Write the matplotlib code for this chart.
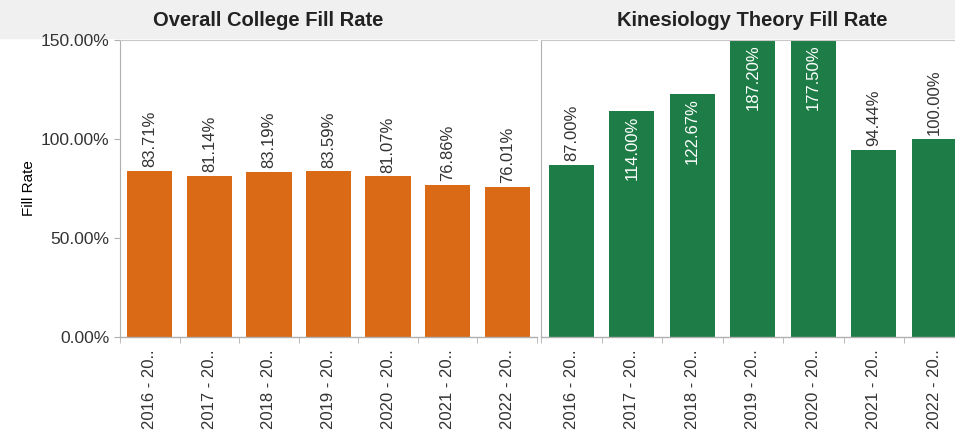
import numpy as np
import matplotlib.pyplot as plt

plt.rcParams.update({
    "font.family": ["Liberation Sans", "DejaVu Sans"],
    "font.size": 12,
    "text.color": "#333333",
    "xtick.color": "#333333",
    "ytick.color": "#333333",
})

years = ["2016 - 20..", "2017 - 20..", "2018 - 20..", "2019 - 20..",
         "2020 - 20..", "2021 - 20..", "2022 - 20.."]
college = [83.71, 81.14, 83.19, 83.59, 81.07, 76.86, 76.01]
kines = [87.00, 114.00, 122.67, 187.20, 177.50, 94.44, 100.00]
yticks = [0, 50, 100, 150]

ORANGE = "#DA6A16"
GREEN = "#1E7D47"

W, H = 955, 444
fig = plt.figure(figsize=(W / 100, H / 100), dpi=100)
fig.patch.set_facecolor("white")

# header band
fig.add_artist(plt.Rectangle((0, (H - 38) / H), 1, 38 / H, transform=fig.transFigure,
                             color="#f0f0f0", zorder=0))

y0 = (H - 337) / H
hh = 297 / H
ax1 = fig.add_axes([120 / W, y0, 417 / W, hh])
ax2 = fig.add_axes([541 / W, y0, 423.5 / W, hh])

x = np.arange(len(years))


def style(ax):
    ax.set_xlim(-0.5, len(years) - 0.5)
    ax.set_ylim(0, 150)
    for s in ["right", "bottom"]:
        ax.spines[s].set_visible(False)
    ax.spines["top"].set_color("#c8c8c8")
    ax.spines["left"].set_color("#b0b0b0")
    ax.set_xticks(x)
    ax.set_xticklabels(years, rotation=90, fontsize=12)
    ax.tick_params(axis="x", length=0, pad=9)
    ax.set_xticks(np.arange(-0.5, len(years)), minor=True)
    ax.tick_params(axis="x", which="minor", length=4, color="#b0b0b0")
    ax.axhline(0, color="#b0b0b0", lw=1, clip_on=False)


style(ax1)
style(ax2)

ax1.bar(x, college, width=0.76, color=ORANGE)
for xi, v in zip(x, college):
    ax1.text(xi, v + 2, f"{v:.2f}%", rotation=90, ha="center", va="bottom", fontsize=12)

ax1.set_yticks(yticks)
ax1.set_yticklabels([f"{t:.2f}%" for t in yticks], fontsize=12.5)
ax1.tick_params(axis="y", length=4, color="#b0b0b0")
ax1.set_ylabel("Fill Rate", fontsize=11)
ax1.yaxis.set_label_coords(-84 / 417, 0.5)

# titles centred over each pane
fig.text(268 / W, (H - 20) / H, "Overall College Fill Rate", ha="center", va="center",
         fontsize=14.5, fontweight="bold", color="#222222")
fig.text(752 / W, (H - 20) / H, "Kinesiology Theory Fill Rate", ha="center", va="center",
         fontsize=14.5, fontweight="bold", color="#222222")

ax2.bar(x, kines, width=0.75, color=GREEN)
for xi, v in zip(x, kines):
    if v > 105:
        top = min(v, 150)
        ax2.text(xi, top - 2, f"{v:.2f}%", rotation=90, ha="center", va="top",
                 fontsize=12, color="white")
    else:
        ax2.text(xi, v + 2, f"{v:.2f}%", rotation=90, ha="center", va="bottom", fontsize=12)
ax2.set_yticks([])

fig.savefig("out.png", dpi=100)
